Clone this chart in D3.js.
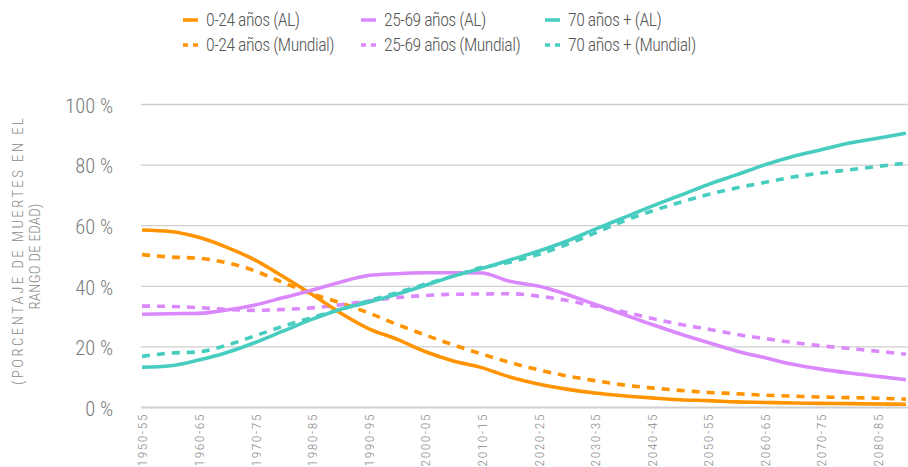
<!DOCTYPE html>
<html>
<head>
<meta charset="utf-8">
<script src="https://cdn.jsdelivr.net/npm/d3@7"></script>
<style>
  html, body { margin: 0; padding: 0; background: #fff; }
  svg { display: block; }
  text { font-family: "Roboto Condensed", "Liberation Sans Narrow", "DejaVu Sans Condensed", sans-serif; font-weight: 300; }
</style>
</head>
<body>
<svg id="chart" width="908" height="467"></svg>
<script>
const categories = ["1950-55","1955-60","1960-65","1965-70","1970-75","1975-80","1980-85","1985-90","1990-95","1995-00",
  "2000-05","2005-10","2010-15","2015-20","2020-25","2025-30","2030-35","2035-40","2040-45","2045-50",
  "2050-55","2055-60","2060-65","2065-70","2070-75","2075-80","2080-85","2085-90"];

const young_AL = [58.4,57.9,56.0,52.7,48.5,43.0,37.2,31.1,25.9,22.4,18.3,15.2,13.0,9.9,7.6,5.9,4.6,3.7,3.0,2.4,2.1,1.7,1.5,1.3,1.2,1.1,1.0,0.9];
const young_W  = [50.3,49.5,49.1,47.6,44.9,41.0,37.4,34.4,31.1,27.3,23.8,20.5,17.5,14.7,12.3,10.3,8.7,7.3,6.3,5.5,4.8,4.4,3.9,3.6,3.3,3.1,2.9,2.6];
const adult_AL = [30.6,30.8,30.9,32.0,33.7,36.1,38.5,41.2,43.4,44.0,44.3,44.3,44.2,41.5,39.9,37.2,33.9,30.6,27.3,24.2,21.3,18.5,16.3,14.1,12.5,11.2,10.1,9.0];
const adult_W  = [33.3,33.2,32.8,32.2,31.9,32.2,32.7,33.7,35.0,36.1,36.8,37.2,37.3,37.4,36.6,35.2,33.3,31.4,29.3,27.3,25.7,24.0,22.6,21.3,20.2,19.3,18.4,17.4];
const old_AL   = [13.1,13.6,15.5,18.0,21.3,25.1,28.9,32.2,34.6,37.2,40.1,43.2,45.7,48.5,51.4,54.7,58.6,62.4,66.2,69.8,73.4,76.6,79.9,82.7,84.9,87.1,88.7,90.4];
const old_W    = [16.7,17.8,18.2,20.4,23.5,26.7,29.5,32.2,35.0,37.7,40.5,43.2,46.0,47.8,50.3,53.6,57.4,61.3,64.6,67.5,70.1,72.3,74.1,75.9,77.2,78.3,79.4,80.5];

const yTicks = [0,20,40,60,80,100];
const seriesNames = ["0-24 años (AL)","0-24 años (Mundial)","25-69 años (AL)","25-69 años (Mundial)","70 años + (AL)","70 años + (Mundial)"];
const seriesColors = ["#FF9400","#FF9400","#DA88FC","#DA88FC","#46CDBF","#46CDBF"];
const seriesDashed = [false,true,false,true,false,true];
const seriesValues = [young_AL, young_W, adult_AL, adult_W, old_AL, old_W];
const yTitle = ["(PORCENTAJE DE MUERTES EN EL","RANGO DE EDAD)"];

const svg = d3.select("#chart");
const plotLeft = 141, plotRight = 908, plotTop = 104, plotBottom = 407;

const x = d3.scalePoint().domain(categories).range([142, 906]);
const y = d3.scaleLinear().domain([0,100]).range([plotBottom, plotTop]);

// grid + y axis
const yAxis = svg.append("g").attr("transform", `translate(${plotLeft},0)`)
  .call(d3.axisLeft(y).tickValues(yTicks).tickSize(-(plotRight-plotLeft)).tickPadding(28).tickFormat(d => d + " %"));
yAxis.select(".domain").remove();
yAxis.selectAll(".tick line").attr("stroke", "#cfcfcf").attr("stroke-width", d => d === 0 ? 2 : 1.3);
yAxis.selectAll(".tick text").attr("fill", "#7a7a7a").attr("font-size", 20.5).attr("dy", "0.4em");

// x axis labels
const xAxis = svg.append("g").attr("transform", `translate(0,${plotBottom})`)
  .call(d3.axisBottom(x).tickValues(categories.filter((d,i) => i % 2 === 0)).tickSize(0).tickPadding(0));
xAxis.select(".domain").remove();
xAxis.selectAll(".tick text")
  .attr("fill", "#8c8c8c").attr("font-size", 13.5)
  .style("letter-spacing", "1.5px")
  .attr("text-anchor", "end")
  .attr("transform", "translate(0,6) rotate(-90)")
  .attr("x", 0).attr("y", 0).attr("dy", "0.36em");

// lines
const line = d3.line().x((d,i) => x(categories[i])).y(d => y(d)).curve(d3.curveMonotoneX);
const order = [1,3,5,0,2,4];
order.forEach(k => {
  svg.append("path")
    .datum(seriesValues[k])
    .attr("fill", "none")
    .attr("stroke", seriesColors[k])
    .attr("stroke-width", 3.6)
    .attr("stroke-dasharray", seriesDashed[k] ? "8,7" : null)
    .attr("d", line);
});

// legend
const legX = [183, 361, 545];
const legY = [20, 45];
seriesNames.forEach((name, k) => {
  const col = Math.floor(k / 2), row = k % 2;
  const g = svg.append("g").attr("transform", `translate(${legX[col]},${legY[row]})`);
  g.append("line").attr("x1", 0).attr("x2", 15).attr("y1", 0).attr("y2", 0)
    .attr("stroke", seriesColors[k]).attr("stroke-width", 3.5)
    .attr("stroke-dasharray", seriesDashed[k] ? "5,5" : null);
  g.append("text").attr("x", 23).attr("y", 0).attr("dy", "0.36em")
    .attr("fill", "#555").attr("font-size", 17.8).style("letter-spacing", "-0.5px").text(name);
});

// y title (justified first line)
const yt = svg.append("text").attr("transform", "rotate(-90)")
  .attr("text-anchor", "middle").attr("fill", "#8a8a8a").attr("font-size", 14.8);
yt.append("tspan").attr("x", -251.5).attr("y", 18).attr("dy", "0.35em")
  .attr("textLength", 267).attr("lengthAdjust", "spacing").text(yTitle[0]);
yt.append("tspan").attr("x", -256.5).attr("y", 35).attr("dy", "0.35em")
  .style("letter-spacing", "0.3px").text(yTitle[1]);
</script>
</body>
</html>
